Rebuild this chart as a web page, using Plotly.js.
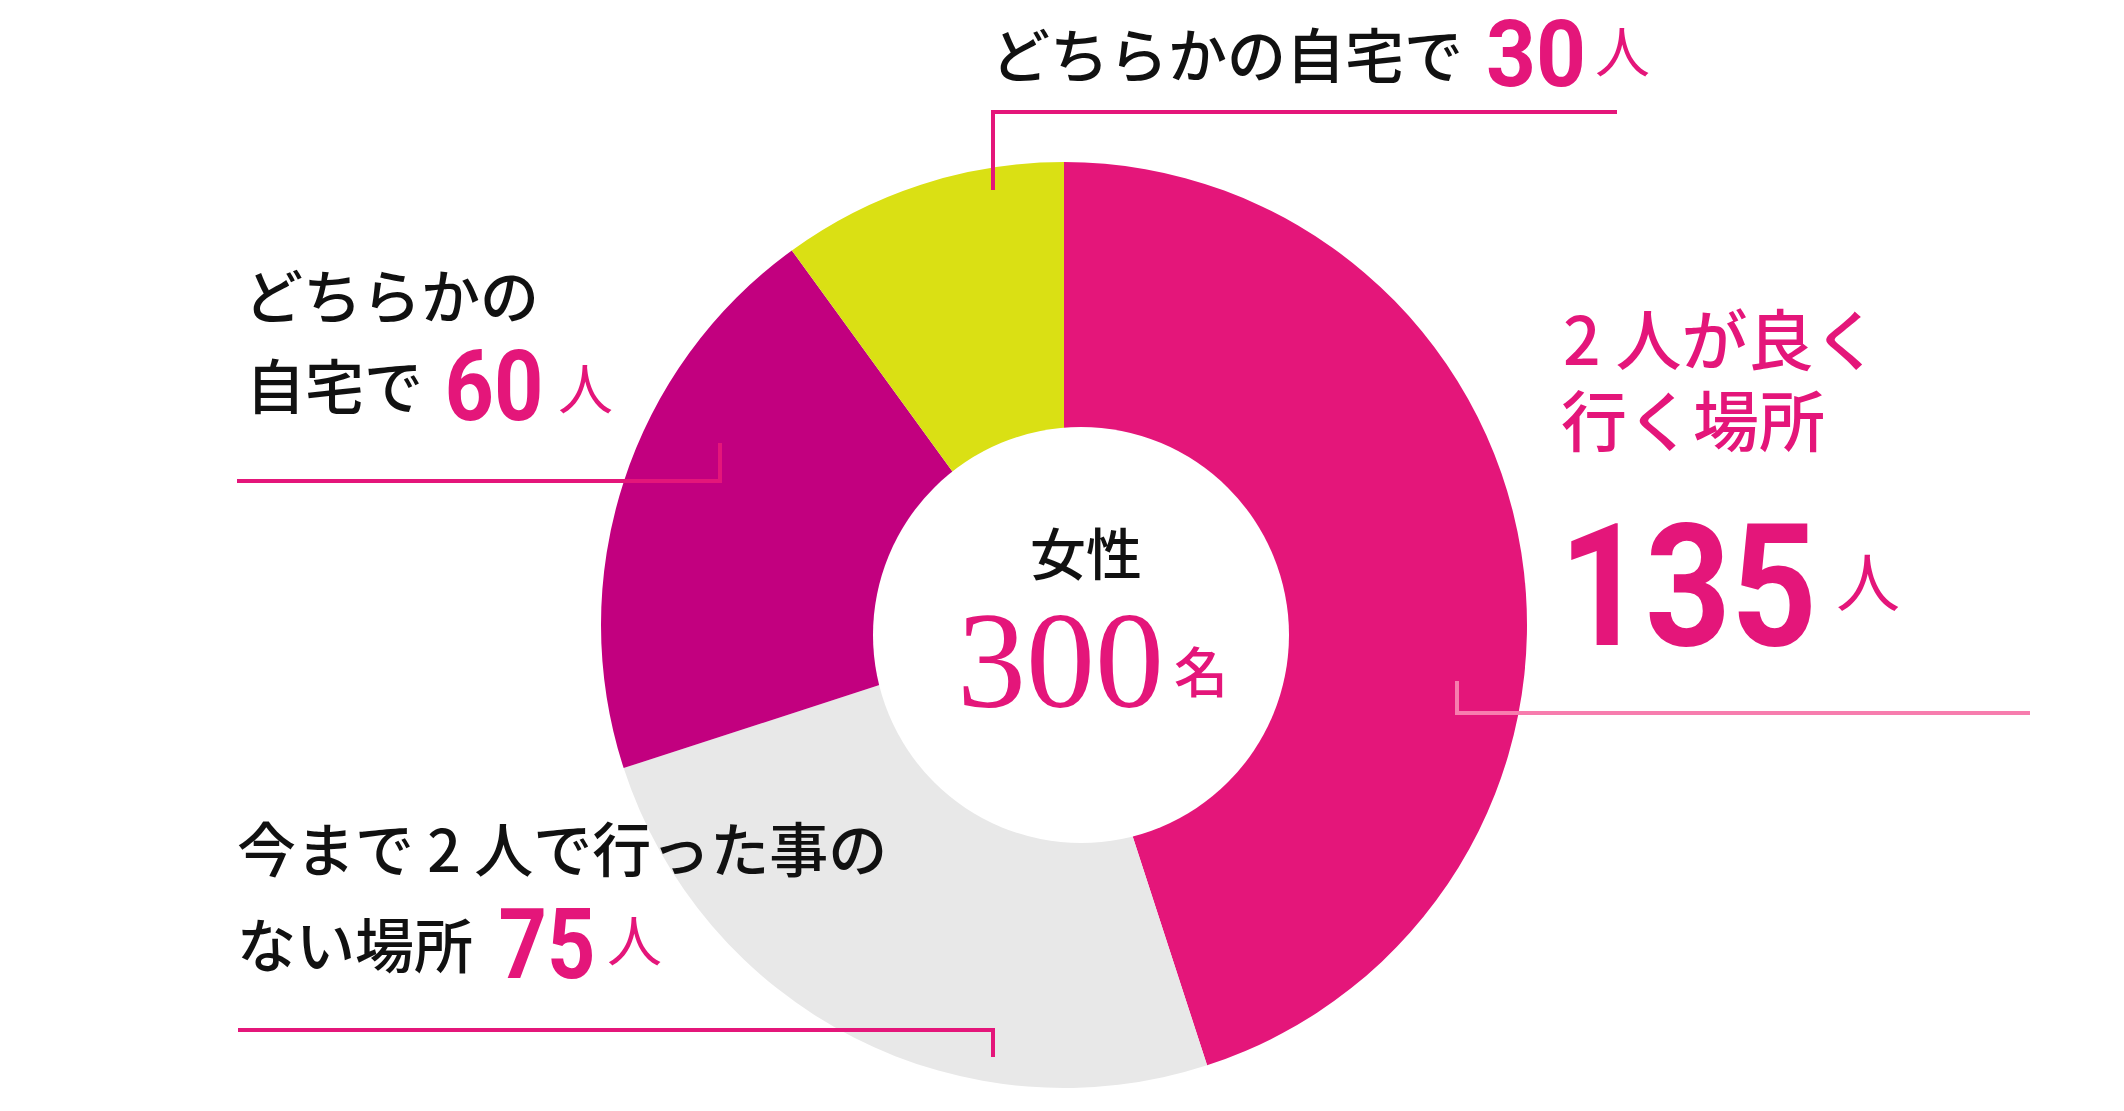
<!DOCTYPE html>
<html>
<head>
<meta charset="utf-8">
<script src="https://cdn.plot.ly/plotly-3.0.1.min.js"></script>
<style>html,body{margin:0;padding:0;background:#fff;}#chart{width:2124px;height:1111px;}</style>
</head>
<body>
<div id="chart"></div>
<script>
// ---- data ----
const categories = ['2人が良く行く場所', '今まで2人で行った事のない場所', 'どちらかの自宅で', 'どちらかの自宅で'];
const values = [135, 75, 60, 30];
const labelLines = [['2 人が良く', '行く場所'], ['今まで 2 人で行った事の', 'ない場所'], ['どちらかの', '自宅で'], ['どちらかの自宅で']];
const unitLabel = '人';
const centerTitle = '女性';
const totalUnit = '名';
const sliceColors = ['#E4167A', '#E8E8E8', '#C2007F', '#DAE014'];

// ---- presentation ----
const W = 2124, H = 1111;
const px = x => x / W;
const py = y => 1 - y / H;
const PINK = '#E4167A';
const JP = '"Noto Sans CJK JP", "Noto Sans", sans-serif';
const NUM = 'Roboto, "Liberation Sans", Arial, sans-serif';

const cx = 1064, cy = 625, R = 463;

const trace = {
  type: 'pie',
  values: values,
  hovertext: categories,
  sort: false,
  direction: 'clockwise',
  rotation: 0,
  hole: 0.4,
  textinfo: 'none',
  hoverinfo: 'text+value',
  marker: {colors: sliceColors, line: {width: 0}},
  domain: {x: [px(cx - R), px(cx + R)], y: [py(cy + R), py(cy - R)]},
  showlegend: false
};

// label placement per slice (page pixels)
const place = [
  {lines: [[1561, 336], [1559, 417]], lineSize: 66, lineH: 76, lineColor: PINK,
   num: [1688, 587], numSize: 170, numLen: 258, numBox: [262, 140], unit: [1834, 578], unitSize: 64},
  {lines: [[235, 846], [235, 942]], lineSize: 59, lineH: 80, lineColor: '#111',
   num: [547, 944], numSize: 98, numLen: 97, numBox: [100, 80], unit: [605, 937], unitSize: 55},
  {lines: [[242, 293], [244, 383]], lineSize: 59, lineH: 80, lineColor: '#111',
   num: [494, 386], numSize: 98, numLen: 99, numBox: [102, 80], unit: [556, 385], unitSize: 55},
  {lines: [[989, 52]], lineSize: 59, lineH: 80, lineColor: '#111',
   num: [1536, 54], numSize: 93, numLen: 100, numBox: [104, 80], unit: [1593, 48], unitSize: 55}
];

const annotations = [];
const condensed = [];
function ann(text, x, y, size, color, family, weight, xanchor, box) {
  const a = {
    text: text, x: px(x), y: py(y), xref: 'paper', yref: 'paper',
    xanchor: xanchor || 'left', yanchor: 'middle', showarrow: false,
    font: {family: family, size: size, color: color, weight: weight || 400}
  };
  if (box) { if (box[0]) a.width = box[0]; if (box[1]) a.height = box[1]; }
  annotations.push(a);
  return annotations.length - 1;
}
values.forEach((v, i) => {
  const p = place[i];
  labelLines[i].forEach((t, j) => ann(t, p.lines[j][0], p.lines[j][1], p.lineSize, p.lineColor, JP, 500, 'left', [0, p.lineH]));
  const k = ann(String(v), p.num[0], p.num[1], p.numSize, PINK, NUM, 700, 'center', p.numBox);
  condensed.push({index: k, length: p.numLen});
  ann(unitLabel, p.unit[0], p.unit[1], p.unitSize, PINK, JP, 400, 'left', [0, 72]);
});

// center text
const total = values.reduce((a, b) => a + b, 0);
ann(centerTitle, 1086, 550, 56, '#111', JP, 500, 'center');
ann(String(total), 1060, 660, 138, PINK, '"Liberation Serif", "Times New Roman", serif', 400, 'center');
ann(totalUnit, 1201, 669, 54, PINK, JP, 500, 'center');

// connector lines
function seg(x0, y0, x1, y1, color) {
  return {type: 'line', xref: 'paper', yref: 'paper', x0: px(x0), y0: py(y0), x1: px(x1), y1: py(y1),
    line: {color: color, width: 4}, layer: 'above'};
}
const LIGHT = '#F77DAE';
const HX = 1081, HY = 635, HR = 208;   // white centre disc (slightly off-centre as in the reference)
const shapes = [
  {type: 'circle', xref: 'paper', yref: 'paper', x0: px(HX - HR), x1: px(HX + HR), y0: py(HY + HR), y1: py(HY - HR),
    fillcolor: '#ffffff', line: {width: 0}, layer: 'above'},
  seg(993, 190, 993, 110, PINK), seg(991, 112, 1617, 112, PINK),
  seg(237, 481, 722, 481, PINK), seg(720, 483, 720, 443, PINK),
  seg(238, 1030, 995, 1030, PINK), seg(993, 1028, 993, 1057, PINK),
  seg(1457, 681, 1457, 715, LIGHT), seg(1455, 713, 2030, 713, LIGHT)
];

const layout = {
  width: W, height: H,
  margin: {l: 0, r: 0, t: 0, b: 0, pad: 0},
  paper_bgcolor: '#ffffff', plot_bgcolor: '#ffffff',
  showlegend: false,
  annotations: annotations,
  shapes: shapes
};

Plotly.newPlot('chart', [trace], layout, {displayModeBar: false, staticPlot: true}).then(gd => {
  const nodes = gd.querySelectorAll('.annotation');
  condensed.forEach(c => {
    const t = nodes[c.index] && nodes[c.index].querySelector('text.annotation-text');
    if (t) { t.setAttribute('textLength', c.length); t.setAttribute('lengthAdjust', 'spacingAndGlyphs'); }
  });
});
</script>
</body>
</html>
